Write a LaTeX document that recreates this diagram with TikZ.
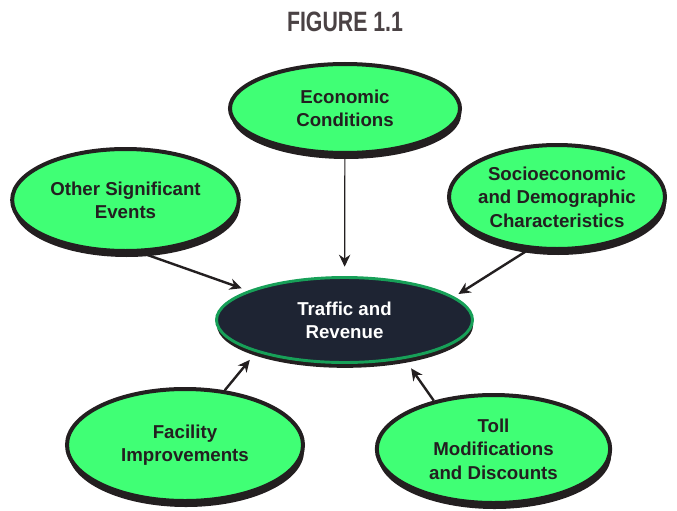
\documentclass[tikz,border=0pt]{standalone}
\usepackage{fontspec}
\setmainfont{Liberation Sans}
\usepackage{tikz}
\usetikzlibrary{arrows.meta,shapes.geometric,shadows}
\definecolor{ink}{HTML}{231F20}
\definecolor{leaf}{HTML}{40FF75}
\definecolor{ring}{HTML}{17A058}
\definecolor{navy}{HTML}{1E2433}
\definecolor{titlegray}{HTML}{4A4244}
\tikzset{
  factor/.style={ellipse, draw=ink, line width=3pt, fill=leaf, text=ink,
    font=\bfseries\fontsize{14}{17.5}\selectfont, align=center, inner sep=-8pt,
    drop shadow={shadow xshift=0.8pt, shadow yshift=-4.5pt, fill=ink, opacity=1}},
  hub/.style={ellipse, draw=ring, line width=2.2pt, fill=navy, text=white,
    font=\bfseries\fontsize{14}{17.5}\selectfont, align=center, inner sep=-8pt,
    drop shadow={shadow xshift=0.4pt, shadow yshift=-4pt, fill=ink, opacity=1}},
  link/.style={draw=ink, line width=1.8pt, -{Stealth[length=9pt, width=8.5pt]}},
  thinlink/.style={link, line width=0.9pt},
  caption/.style={text=titlegray, font=\bfseries\fontsize{21}{21}\selectfont}
}

\begin{document}
\begin{tikzpicture}[x=0.75pt, y=-0.75pt]
  \useasboundingbox (0,0) rectangle (677,510);

  \node[caption] (title) at (345,22) {\scalebox{0.76}[1]{FIGURE 1.1}};

  \node[factor, minimum width=172.5pt, minimum height=66.75pt] (eco) at (345,108.5) {Economic\\Conditions};
  \node[factor, minimum width=170pt, minimum height=76.5pt] (oth) at (125.5,200) {Other Significant\\Events};
  \node[factor, minimum width=162pt, minimum height=78pt] (soc) at (557,197) {Socioeconomic\\and Demographic\\Characteristics};
  \node[hub, minimum width=192pt, minimum height=63.75pt] (trf) at (344.5,320) {Traffic and\\Revenue};
  \node[factor, minimum width=177pt, minimum height=84pt] (fac) at (185,445) {Facility\\Improvements};
  \node[factor, minimum width=175pt, minimum height=81pt] (tol) at (493.5,449) {Toll\\Modifications\\and Discounts};

  \draw[thinlink, shorten >=7pt] (eco) -- (trf);
  \draw[link, shorten >=5.25pt] (oth.-74) -- (trf.163);
  \draw[link, shorten >=3.75pt] (soc.-118) -- (trf.12);
  \draw[link, shorten >=7.5pt] (fac.54) -- (trf.-160);
  \draw[link, shorten >=8.6pt] (tol.141) -- (trf.-33);
\end{tikzpicture}
\end{document}
